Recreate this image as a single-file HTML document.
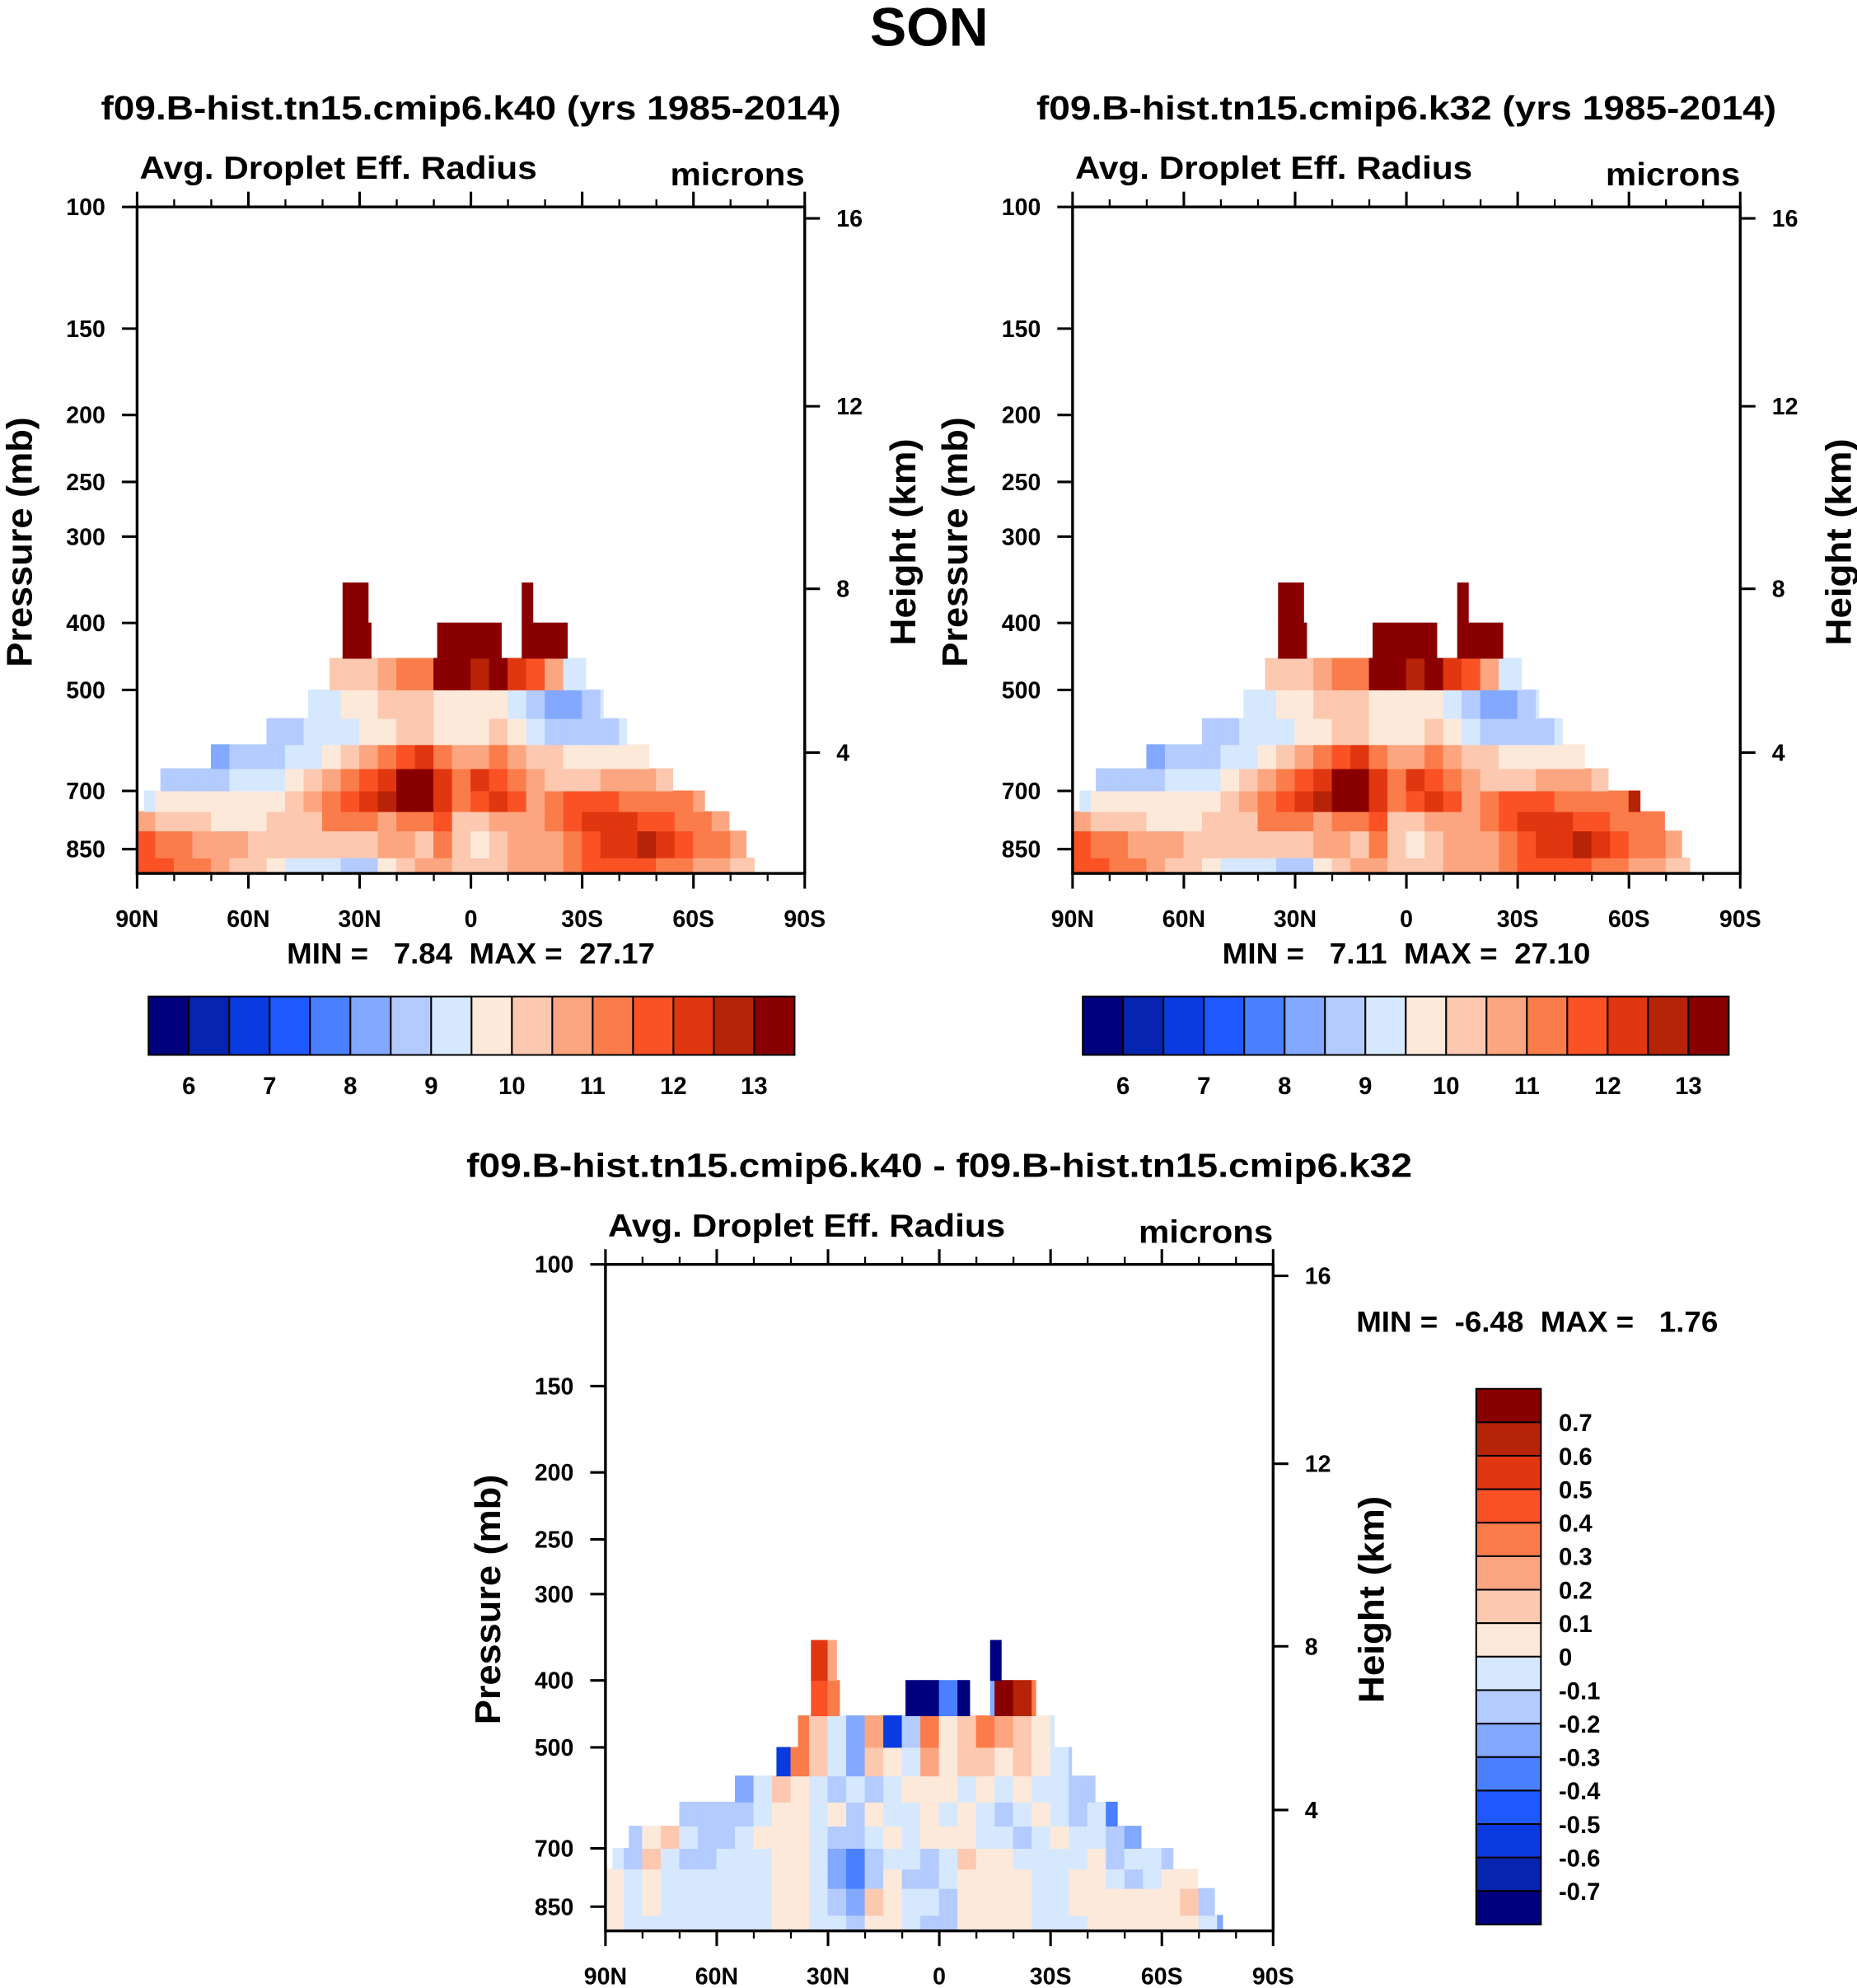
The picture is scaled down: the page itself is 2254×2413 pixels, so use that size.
<!DOCTYPE html>
<html><head><meta charset="utf-8"><style>
html,body{margin:0;padding:0;background:#fff}
svg{display:block}
text{font-family:"Liberation Sans",Arial,sans-serif;font-weight:bold;fill:#000}
</style></head><body>
<svg id="fig" xmlns="http://www.w3.org/2000/svg" width="2254" height="2413" viewBox="0 0 1463 1566" preserveAspectRatio="none"></svg>
<script>
// ---------- data ----------
const rowEdges = [922, 875, 800, 750, 700, 650, 600, 550, 500, 450, 400, 350];
const rowSegments = [
  [[90,-76.4]], [[90,-74.2]], [[90,-69.6]], [[88,-63]], [[83.6,-54.4]], [[70,-48]],
  [[55,-42]], [[43.8,-35.7]], [[38,-31]], [[34.5,26.9],[9,-8.2],[-13.8,-26]], [[34.5,27.7],[-13.8,-16.7]]
];
const rowStart = [0,0,0,0,1,4,7,9,10,11,11];
const p1Values = [
  [11.8,11.8,11.3,11.3,10.8,10.3,10.3,9.8,9.3,9.3,9.3,8.8,8.8,9.8,10.3,10.8,10.8,10.3,10.3,10.3,10.8,10.8,10.8,11.3,11.8,11.8,11.8,11.8,11.3,11.3,10.8,10.8,10.3,10.3],
  [11.8,11.3,11.3,10.8,10.8,10.8,10.3,10.3,10.3,10.3,10.3,10.3,10.3,10.8,10.8,10.3,11.3,10.3,9.8,10.3,10.8,10.8,10.8,11.3,11.8,12.3,12.3,12.8,12.3,11.8,11.3,11.3,10.8],
  [10.8,10.3,10.3,10.3,9.8,9.8,9.8,10.3,10.3,10.3,11.3,11.3,11.3,10.8,11.3,11.3,11.8,10.3,10.3,10.8,10.8,10.8,11.3,11.8,12.3,12.3,12.3,11.8,11.8,11.3,11.3,10.8],
  [9.3,9.8,9.8,9.8,9.8,9.8,9.8,9.8,10.3,10.8,11.3,11.8,12.3,12.8,13.3,13.3,12.3,11.3,11.8,12.3,11.8,10.8,11.3,11.8,11.8,11.8,11.3,11.3,11.3,11.3,10.8],
  [8.8,8.8,8.8,8.8,9.3,9.3,9.3,9.8,10.3,10.8,11.3,11.8,12.3,13.3,13.3,12.3,11.3,12.3,11.8,11.3,10.8,10.3,10.3,10.3,10.8,10.8,10.8,10.3],
  [8.3,8.8,8.8,8.8,9.3,9.3,9.8,10.3,10.8,11.3,11.8,12.3,11.3,10.8,10.8,11.3,10.8,10.3,10.3,9.8,9.8,9.8,9.8,9.8],
  [8.8,8.8,9.3,9.3,9.3,9.8,9.8,10.3,10.3,9.8,9.8,9.8,10.3,9.8,9.3,8.8,8.8,8.8,8.8,9.3],
  [9.3,9.3,9.8,9.8,10.3,10.3,10.3,9.8,9.8,9.8,9.8,9.3,8.8,8.3,8.3,8.8,9.3],
  [10.3,10.3,10.3,10.8,11.3,11.3,13.3,13.3,12.8,13.3,12.3,11.8,10.8,9.3,9.3],
  [13.3,13.3,null,null,null,13.3,13.3,13.3,13.3,13.3,13.3,13.3,13.3],
  [13.3,13.3,null,null,null,null,null,null,null,13.3,13.3]
];
const p2Values = [
  [11.8,11.8,11.3,11.3,10.8,10.3,10.3,9.8,9.3,9.3,9.3,8.8,8.8,9.8,10.3,10.8,10.8,10.3,10.3,10.3,10.8,10.8,10.8,11.3,11.8,11.8,11.8,11.8,11.3,11.3,10.8,10.8,10.3,10.3],
  [11.8,11.3,11.3,10.8,10.8,10.8,10.3,10.3,10.3,10.3,10.3,10.3,10.3,10.8,10.8,10.3,11.3,10.3,9.8,10.3,10.8,10.8,10.8,11.3,11.8,12.3,12.3,12.8,12.3,11.8,11.3,11.3,10.8],
  [10.8,10.3,10.3,10.3,9.8,9.8,9.8,10.3,10.3,10.3,11.3,11.3,11.3,10.8,11.3,11.3,11.8,10.3,10.3,10.8,10.8,10.8,11.3,11.8,12.3,12.3,12.3,11.8,11.8,11.3,11.3,11.3],
  [9.3,9.8,9.8,9.8,9.8,9.8,9.8,9.8,10.3,10.8,11.3,11.8,12.3,12.8,13.3,13.3,12.3,11.3,11.8,12.3,11.8,10.8,11.3,11.8,11.8,11.8,11.3,11.3,11.3,11.3,12.8],
  [8.8,8.8,8.8,8.8,9.3,9.3,9.3,9.8,10.3,10.8,11.3,11.8,12.3,13.3,13.3,12.3,11.3,12.3,11.8,11.3,10.8,10.3,10.3,10.3,10.8,10.8,10.8,10.3],
  [8.3,8.8,8.8,8.8,9.3,9.3,9.8,10.3,10.8,11.3,11.8,12.3,11.3,10.8,10.8,11.3,10.8,10.3,10.3,9.8,9.8,9.8,9.8,9.8],
  [8.8,8.8,9.3,9.3,9.3,9.8,9.8,10.3,10.3,9.8,9.8,9.8,10.3,9.8,9.3,8.8,8.8,8.8,8.8,9.3],
  [9.3,9.3,9.8,9.8,10.3,10.3,10.3,9.8,9.8,9.8,9.8,9.3,8.8,8.3,8.3,8.8,9.3],
  [10.3,10.3,10.3,10.8,11.3,11.3,13.3,13.3,12.8,13.3,12.3,11.8,10.8,9.3,9.3],
  [13.3,13.3,null,null,null,13.3,13.3,13.3,13.3,13.3,13.3,13.3,13.3],
  [13.3,13.3,null,null,null,null,null,null,null,13.3,13.3]
];
const diffValues = [
  [0.05,-0.05,-0.05,-0.05,-0.05,-0.05,-0.05,-0.05,-0.05,0.05,0.05,-0.05,-0.05,-0.15,0.05,0.05,-0.05,-0.15,-0.15,0.05,0.05,0.05,0.05,-0.05,-0.05,-0.05,0.05,0.05,0.05,0.05,0.05,0.05,-0.05,-0.25],
  [0.05,-0.05,0.05,-0.05,-0.05,-0.05,-0.05,-0.05,-0.05,0.05,0.05,-0.05,-0.15,-0.25,0.15,0.05,-0.05,-0.05,-0.15,0.05,0.05,0.05,0.05,-0.05,-0.05,0.05,0.05,0.05,0.05,0.05,0.05,0.15,-0.15],
  [0.05,-0.05,0.05,-0.05,-0.05,-0.05,-0.05,-0.05,-0.05,0.05,0.05,-0.05,-0.25,-0.35,-0.15,0.05,-0.15,-0.15,-0.05,0.05,0.05,0.05,0.05,-0.05,-0.05,0.05,0.05,-0.05,-0.15,-0.05,0.05,0.05],
  [-0.05,-0.15,0.15,-0.05,-0.15,-0.15,-0.05,-0.05,-0.05,0.05,0.05,-0.05,-0.25,-0.35,-0.15,-0.05,-0.05,-0.15,-0.05,0.15,0.05,0.05,-0.05,-0.05,-0.05,-0.05,0.05,-0.15,-0.05,-0.05,-0.15],
  [-0.15,0.05,0.15,-0.05,-0.15,-0.15,-0.05,0.05,0.05,0.05,-0.05,-0.15,-0.15,-0.05,0.05,-0.05,0.05,0.05,0.05,-0.05,-0.05,-0.15,-0.05,0.05,-0.05,-0.05,-0.15,-0.25],
  [-0.15,-0.15,-0.15,-0.15,-0.05,0.05,0.05,-0.05,0.05,-0.15,0.05,-0.05,-0.05,0.05,-0.05,0.05,-0.05,-0.15,-0.05,0.05,-0.05,-0.15,-0.05,-0.35],
  [-0.25,-0.05,0.15,0.05,-0.05,-0.15,-0.05,-0.15,-0.05,0.05,0.05,0.05,-0.05,0.05,-0.05,0.05,-0.05,-0.05,-0.15,-0.15],
  [-0.55,0.3,0.1,-0.05,-0.25,0.15,0.05,-0.05,0.25,0.05,0.15,0.15,0.05,0.1,0.05,-0.05,-0.15],
  [0.35,0.15,-0.05,-0.25,0.25,-0.55,-0.15,0.35,0.05,0.15,0.35,0.25,0.15,0.05,-0.05],
  [0.45,0.35,null,null,null,-0.75,-0.75,-0.35,-0.75,-0.25,0.75,0.65,0.35],
  [0.55,0.25,null,null,null,null,null,null,null,-0.75,-0.75]
];
const pressureTicks = [100,150,200,250,300,400,500,700,850];
const heightLabels = ['16','12','8','4'];
const heightTickP = [103.9, 194.3, 357, 616];
const latLabels = ['90N','60N','30N','0','30S','60S','90S'];
const latLabelVals = [90,60,30,0,-30,-60,-90];
const cbLabels1 = ['6','7','8','9','10','11','12','13'];
const cbLabels3 = ['0.7','0.6','0.5','0.4','0.3','0.2','0.1','0','-0.1','-0.2','-0.3','-0.4','-0.5','-0.6','-0.7'];
const palette = ['#00007f','#0524b0','#0a3be0','#1f58ff','#4a80ff','#82a8ff','#b4cbff','#d6e8fd','#fde9da','#fcc8b0','#fca681','#fb7c4b','#fa5225','#e13710','#b72306','#8a0000'];

// ---------- helpers ----------
const NS='http://www.w3.org/2000/svg';
const svg=document.getElementById('fig');
function mk(tag, attrs, parent){const e=document.createElementNS(NS,tag);for(const k in attrs)e.setAttribute(k,attrs[k]);(parent||svg).appendChild(e);return e;}
function txt(x,y,s,size,anchor,parent,len){const t=mk('text',{x:x,y:y,'font-size':size,'text-anchor':anchor||'start'},parent);if(len){t.setAttribute('textLength',len);t.setAttribute('lengthAdjust','spacingAndGlyphs');}t.textContent=s;return t;}
const W=526,H=525;
function xOf(ox,lat){return ox+(90-lat)/180*W;}
function yOf(oy,p){return oy+236.4*Math.log(p/100);}
function cls1(v){return Math.max(0,Math.min(15,Math.floor((v-5.5)/0.5+1e-9)));}
function cls3(v){return Math.max(0,Math.min(15,Math.floor((v+0.8)/0.1+1e-9)));}

function drawPanel(name, ox, oy, values, clsFn, lbl){
  const g=mk('g',{});
  
  
  for(let r=0;r<values.length;r++){
    const row=values[r];
    for(let j=0;j<row.length;j++){
      const v=row[j]; if(v===null||v===undefined) continue;
      const col=rowStart[r]+j;
      const latN=90-5*col, latS=latN-5;
      for(const seg of rowSegments[r]){
        const n=Math.min(latN,seg[0]), s=Math.max(latS,seg[1]);
        if(n<=s) continue;
        const x0=xOf(ox,n), x1=xOf(ox,s), y0=yOf(oy,rowEdges[r+1]), y1=yOf(oy,rowEdges[r]);
        const c=palette[clsFn(v)];
        const rc=mk('rect',{x:x0,y:y0,width:x1-x0,height:y1-y0,fill:c,stroke:c,'stroke-width':0.6},g);
        
        
      }
    }
  }
  const fr=mk('rect',{x:ox,y:oy,width:W,height:H,fill:'none',stroke:'#000','stroke-width':2.2},g);
  
  
  // lat ticks
  for(let lat=90;lat>=-90;lat-=10){
    const x=xOf(ox,lat), major=(lat%30===0), L=major?12:6;
    mk('line',{x1:x,y1:oy+H,x2:x,y2:oy+H+L,stroke:'#000','stroke-width':major?2:1.5},g);
    mk('line',{x1:x,y1:oy,x2:x,y2:oy-L,stroke:'#000','stroke-width':major?2:1.5},g);
  }
  for(let i=0;i<latLabels.length;i++){
    const t=txt(xOf(ox,latLabelVals[i]),oy+H+42,latLabels[i],18.5,'middle',g);
    
    
  }
  for(const p of pressureTicks){
    const y=yOf(oy,p);
    mk('line',{x1:ox,y1:y,x2:ox-12,y2:y,stroke:'#000','stroke-width':2},g);
    const t=txt(ox-25,y+6.5,String(p),18.5,'end',g);
    
    
  }
  for(let i=0;i<heightLabels.length;i++){
    const y=yOf(oy,heightTickP[i]);
    mk('line',{x1:ox+W,y1:y,x2:ox+W+12,y2:y,stroke:'#000','stroke-width':2},g);
    const t=txt(ox+W+25,y+6.5,heightLabels[i],18.5,'start',g);
    
    
  }
  let t=txt(ox+2,oy-22,'Avg. Droplet Eff. Radius',25,'start',g,313);
  
  
  t=txt(ox+W,oy-17,'microns',25,'end',g,106);
  
  
  t=txt(0,0,'Pressure (mb)',28,'middle',g,197);
  t.setAttribute('transform','translate('+(ox-83)+','+(oy+264)+') rotate(-90)');
  
  
  t=txt(0,0,'Height (km)',28,'middle',g,163);
  t.setAttribute('transform','translate('+(ox+W+87)+','+(oy+264)+') rotate(-90)');
  
  
  return g;
}

function hColorbar(name,x0,y0){
  const g=mk('g',{});
  
  
  const bw=(626-117)/16;
  for(let i=0;i<16;i++){
    const b=mk('rect',{x:x0+i*bw,y:y0,width:bw,height:46,fill:palette[i],stroke:'#000','stroke-width':1.3},g);
    
    
  }
  for(let k=0;k<cbLabels1.length;k++){
    const t=txt(x0+(1+2*k)*bw,y0+77,cbLabels1[k],19,'middle',g);
    
    
  }
}

// ---------- titles ----------
let t=txt(732,36,'SON',43,'middle');


t=txt(371,94,'f09.B-hist.tn15.cmip6.k40 (yrs 1985-2014)',26.5,'middle',svg,583);


t=txt(1108,94,'f09.B-hist.tn15.cmip6.k32 (yrs 1985-2014)',26.5,'middle',svg,583);


t=txt(740,927,'f09.B-hist.tn15.cmip6.k40 - f09.B-hist.tn15.cmip6.k32',26.5,'middle',svg,745);



drawPanel('panel1-plot',108,163,p1Values,cls1);
drawPanel('panel2-plot',845,163,p2Values,cls1);
drawPanel('diff-plot',477,996,diffValues,cls3);

t=txt(371,759,'MIN =   7.84  MAX =  27.17',23,'middle',svg,290);
t.setAttribute('xml:space','preserve');


t=txt(1108,759,'MIN =   7.11  MAX =  27.10',23,'middle',svg,290);


t=txt(1211,1049,'MIN =  -6.48  MAX =   1.76',23,'middle',svg,285);


document.querySelectorAll('text').forEach(e=>e.style.whiteSpace='pre');

hColorbar('panel1-colorbar',117,785);
hColorbar('panel2-colorbar',853,785);

// vertical colorbar for diff
const vg=mk('g',{});


const bh=(1516-1094)/16;
for(let i=0;i<16;i++){
  const b=mk('rect',{x:1163,y:1094+i*bh,width:51,height:bh,fill:palette[15-i],stroke:'#000','stroke-width':1.3},vg);
  
  
}
for(let k=0;k<cbLabels3.length;k++){
  const tt=txt(1228,1094+(k+1)*bh+7,cbLabels3[k],19,'start',vg);
  
  
}
</script>
</body></html>
